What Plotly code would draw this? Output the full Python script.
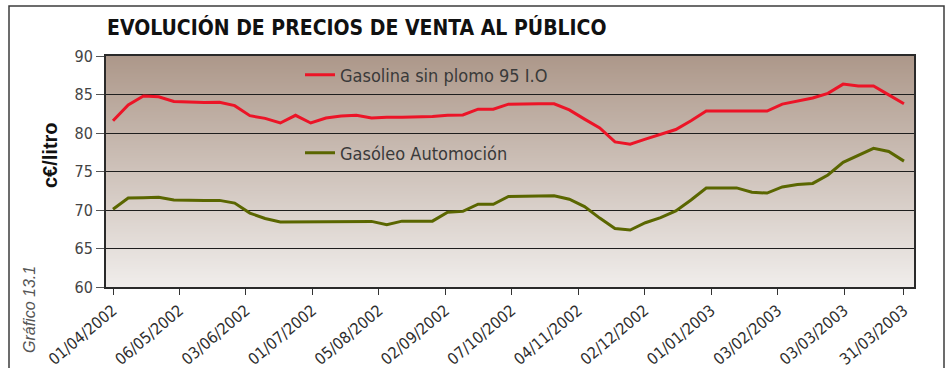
import base64
import struct
import zlib

import plotly.graph_objects as go

# Weekly retail prices (c€/litre), Monday 01/04/2002 to Monday 31/03/2003
gasolina_95 = [
    81.6, 83.65, 84.8, 84.7, 84.1, 84.05, 83.95, 84.0, 83.55, 82.25,
    81.9, 81.3, 82.3, 81.3, 81.95, 82.2, 82.3, 81.95, 82.05, 82.05,
    82.1, 82.15, 82.3, 82.35, 83.1, 83.1, 83.75, 83.8, 83.8, 83.8,
    83.0, 81.8, 80.65, 78.85, 78.55, 79.2, 79.8, 80.45, 81.6, 82.85,
    82.85, 82.85, 82.85, 82.85, 83.75, 84.15, 84.55, 85.15, 86.35, 86.1,
    86.1, 84.95, 83.8,
]
gasoleo_auto = [
    70.1, 71.55, 71.6, 71.65, 71.3, 71.25, 71.25, 71.25, 70.9, 69.6,
    68.9, 68.45, 68.45, 68.45, 68.48, 68.5, 68.52, 68.52, 68.1, 68.55,
    68.55, 68.55, 69.72, 69.82, 70.75, 70.75, 71.75, 71.8, 71.85, 71.85,
    71.4, 70.45, 68.95, 67.6, 67.4, 68.35, 69.0, 69.88, 71.3, 72.85,
    72.85, 72.87, 72.3, 72.2, 73.0, 73.3, 73.45, 74.55, 76.2, 77.05,
    78.0, 77.6, 76.35,
]
series_names = ["Gasolina sin plomo 95 I.O", "Gasóleo Automoción"]
month_labels = [
    "01/04/2002", "06/05/2002", "03/06/2002", "01/07/2002", "05/08/2002",
    "02/09/2002", "07/10/2002", "04/11/2002", "02/12/2002", "01/01/2003",
    "03/02/2003", "03/03/2003", "31/03/2003",
]

weeks = list(range(len(gasolina_95)))

# month ticks sit at a regular spacing along the week index; the last one on the final week
TICK_STEP = 4.369
tick_positions = [k * TICK_STEP for k in range(len(month_labels) - 1)] + [weeks[-1]]

W, H = 947, 368
ML, MR, MT, MB = 106, 33, 56, 81
PW, PH = W - ML - MR, H - MT - MB


def px_x(px):
    return (px - ML) / PW


def px_y(py):
    return (H - MB - py) / PH


def gradient_png(top, bottom, n=256):
    rows = b""
    for i in range(n):
        t = i / (n - 1)
        c = bytes(round(a + (b - a) * t) for a, b in zip(top, bottom))
        rows += b"\x00" + c

    def chunk(tag, data):
        body = tag + data
        return struct.pack(">I", len(data)) + body + struct.pack(">I", zlib.crc32(body) & 0xFFFFFFFF)

    png = b"\x89PNG\r\n\x1a\n"
    png += chunk(b"IHDR", struct.pack(">IIBBBBB", 1, n, 8, 2, 0, 0, 0))
    png += chunk(b"IDAT", zlib.compress(rows, 9))
    png += chunk(b"IEND", b"")
    return "data:image/png;base64," + base64.b64encode(png).decode()


NARROW = "Liberation Sans Narrow, DejaVu Sans Condensed, Arial Narrow, sans-serif"
SANS = "Liberation Sans, Arial, sans-serif"

fig = go.Figure()
fig.add_trace(go.Scatter(
    x=weeks, y=gasolina_95, name=series_names[0], mode="lines",
    line=dict(color="#ec1427", width=3), legend="legend",
))
fig.add_trace(go.Scatter(
    x=weeks, y=gasoleo_auto, name=series_names[1], mode="lines",
    line=dict(color="#5a6600", width=3), legend="legend2",
))

legend_font = dict(family=NARROW, size=18, color="#3a3a3a")
fig.update_layout(
    width=W, height=H,
    margin=dict(l=ML, r=MR, t=MT, b=MB, autoexpand=False),
    paper_bgcolor="white",
    plot_bgcolor="#d0c3ba",
    showlegend=True,
    title=dict(
        text="<b>EVOLUCIÓN DE PRECIOS DE VENTA AL PÚBLICO</b>",
        font=dict(family=NARROW, size=21, color="#111111"),
        xref="container", x=107 / W, xanchor="left",
        yref="container", y=1 - 28 / H, yanchor="middle",
    ),
    legend=dict(
        x=px_x(300), y=px_y(75), xanchor="left", yanchor="middle",
        bgcolor="rgba(0,0,0,0)", font=legend_font,
    ),
    legend2=dict(
        x=px_x(300), y=px_y(153), xanchor="left", yanchor="middle",
        bgcolor="rgba(0,0,0,0)", font=legend_font,
    ),
    xaxis=dict(
        range=[-0.46, 52.66], automargin=False,
        tickmode="array", tickvals=tick_positions, ticktext=month_labels,
        tickangle=-40,
        tickfont=dict(family=NARROW, size=16, color="#2e2e2e"),
        ticks="outside", ticklen=6, tickcolor="#333333", tickwidth=1,
        showgrid=False, zeroline=False,
        showline=True, linecolor="#2a2a2a", linewidth=2, mirror=True,
    ),
    yaxis=dict(
        range=[60, 90], dtick=5, automargin=False,
        tickfont=dict(family=NARROW, size=16, color="#444444"),
        ticks="outside", ticklen=8, tickcolor="#555555", tickwidth=1,
        showgrid=True, gridcolor="#1e1e1e", gridwidth=1,
        zeroline=False,
        showline=True, linecolor="#2a2a2a", linewidth=2, mirror=True,
    ),
    images=[dict(
        source=gradient_png((173, 152, 138), (240, 237, 235)),
        xref="paper", yref="paper", x=0, y=1, sizex=1, sizey=1,
        sizing="stretch", layer="below",
    )],
    shapes=[
        # outer frame of the figure box
        dict(type="rect", xref="paper", yref="paper",
             x0=px_x(9), x1=px_x(944), y0=px_y(380), y1=px_y(6),
             line=dict(color="#3c3c3c", width=1.5), fillcolor="rgba(0,0,0,0)",
             layer="below"),
    ],
    annotations=[
        dict(text="<b>c€/litro</b>", xref="paper", yref="paper",
             x=px_x(50), y=px_y(155), xanchor="center", yanchor="middle",
             textangle=-90, showarrow=False,
             font=dict(family=SANS, size=20, color="#111111")),
        dict(text="Gráfico 13.1", xref="paper", yref="paper",
             x=px_x(29), y=px_y(310), xanchor="center", yanchor="middle",
             textangle=-90, showarrow=False,
             font=dict(family=SANS, size=16, color="#555555", style="italic")),
    ],
)

fig.write_html("out.html")
